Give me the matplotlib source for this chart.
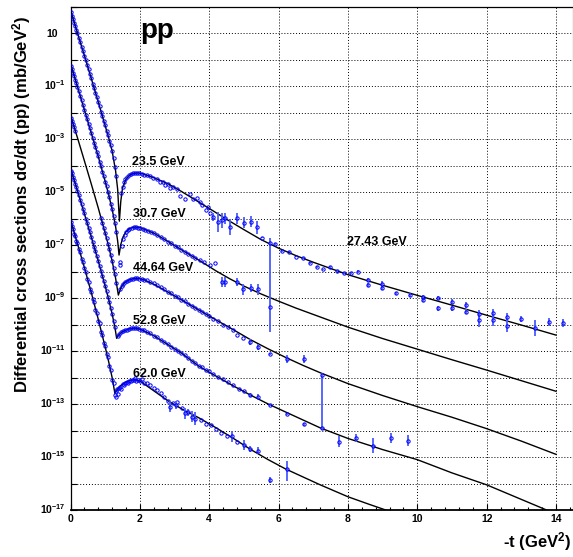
import numpy as np
import matplotlib
matplotlib.use("Agg")
import matplotlib.pyplot as plt

plt.rcParams['font.family'] = ['Liberation Sans', 'DejaVu Sans']
plt.rcParams['mathtext.fontset'] = 'custom'
plt.rcParams['mathtext.rm'] = 'Liberation Sans'
plt.rcParams['mathtext.bf'] = 'Liberation Sans:bold'
plt.rcParams['mathtext.it'] = 'Liberation Sans:italic'

# ---- data (values stored as log10 of dsigma/dt, mb/GeV^2) ----
# forward-cone t values used by the data sets
t_fwd = [0.02, 0.05, 0.08, 0.11, 0.14, 0.17, 0.20, 0.24, 0.28, 0.32, 0.36, 0.40,
         0.44, 0.48, 0.52, 0.56, 0.60, 0.64, 0.68, 0.72, 0.76, 0.80, 0.84, 0.88,
         0.92, 0.96, 1.00, 1.04, 1.08, 1.12, 1.16, 1.20, 1.24, 1.28, 1.32]

# 23.5 GeV
t_235 = t_fwd + [1.46, 1.50, 1.54, 1.58, 1.63, 1.68, 1.74, 1.80, 1.86, 1.92, 1.98,
                 2.05, 2.12, 2.20, 2.30, 2.39, 2.48, 2.58, 2.66, 2.72, 2.80, 2.87,
                 2.95, 3.06, 3.16, 3.30, 3.45, 3.54, 3.64, 3.73, 3.78, 3.91, 3.96, 4.02]
lg_235 = [1.79, 1.64, 1.53, 1.38, 1.27, 1.12, 1.01, 0.82, 0.67, 0.48, 0.33, 0.14,
          -0.01, -0.21, -0.36, -0.56, -0.71, -0.91, -1.06, -1.26, -1.41, -1.61, -1.77,
          -1.97, -2.13, -2.33, -2.49, -2.69, -2.85, -3.06, -3.24, -3.46, -3.73, -4.07,
          -4.40,
          -5.05, -4.80, -4.63, -4.52, -4.43, -4.37, -4.33, -4.30, -4.28, -4.27, -4.29,
          -4.31, -4.34, -4.36, -4.41, -4.48, -4.52, -4.61, -4.64, -4.74, -4.70, -4.86,
          -4.80, -4.90, -5.15, -5.28, -5.08, -5.28, -5.22, -5.37, -5.49, -5.68, -5.55, -5.80]
te_235 = [4.12, 4.26, 4.36, 4.46, 4.60, 4.79, 5.00, 5.20, 5.39]
lge_235 = [-5.93, -6.12, -6.06, -5.99, -6.33, -5.99, -6.16, -6.12, -6.33]
err_235 = [0.15, 0.38, 0.28, 0.20, 0.30, 0.20, 0.20, 0.20, 0.25]

# 27.43 GeV (large |t|)
t_2743 = [5.51, 5.75, 5.90, 6.09, 6.31, 6.50, 6.70, 6.91, 7.10, 7.29, 7.48, 7.69,
          7.90, 8.09, 8.28, 8.59, 8.59, 8.99, 8.99, 9.39, 9.79, 10.17, 10.17, 10.59,
          10.59, 10.99, 10.99, 11.40, 11.40, 11.79, 11.79, 12.19, 12.19, 12.60, 12.60,
          13.00, 13.39, 13.79, 14.19]
lg_2743 = [-6.72, -6.94, -6.96, -7.22, -7.25, -7.44, -7.50, -7.67, -7.82, -7.92, -7.84,
           -7.98, -8.07, -8.05, -8.01, -8.32, -8.50, -8.47, -8.61, -8.82, -8.89, -8.95,
           -9.08, -9.01, -9.39, -9.14, -9.39, -9.26, -9.52, -9.60, -9.83, -9.55, -9.83,
           -9.73, -10.05, -9.79, -10.14, -9.89, -9.95]
err_2743 = [0.03, 0.03, 0.03, 0.03, 0.03, 0.03, 0.03, 0.03, 0.03, 0.03, 0.03, 0.04,
            0.04, 0.05, 0.05, 0.08, 0.08, 0.10, 0.10, 0.05, 0.06, 0.08, 0.08, 0.08,
            0.10, 0.10, 0.10, 0.12, 0.10, 0.15, 0.25, 0.15, 0.22, 0.15, 0.25, 0.12,
            0.30, 0.15, 0.15]

# 30.7 GeV
t_307 = t_fwd + [1.43, 1.43, 1.48, 1.52, 1.56, 1.60, 1.65, 1.70, 1.76, 1.82, 1.88,
                 1.94, 2.00, 2.08, 2.16, 2.24, 2.32, 2.40, 2.50, 2.60, 2.70, 2.80,
                 2.90, 3.00, 3.10, 3.20, 3.30, 3.40, 3.50, 3.60, 3.73, 3.85, 4.02, 4.17]
lg_307 = [-0.25, -0.36, -0.51, -0.62, -0.77, -0.88, -1.03, -1.19, -1.38, -1.54, -1.73,
          -1.89, -2.09, -2.24, -2.44, -2.59, -2.79, -2.95, -3.14, -3.30, -3.49, -3.65,
          -3.86, -4.03, -4.23, -4.40, -4.61, -4.79, -5.01, -5.20, -5.44, -5.64, -5.92,
          -6.16, -6.50,
          -7.66, -7.74, -7.02, -6.78, -6.62, -6.52, -6.44, -6.39, -6.35, -6.33, -6.31,
          -6.34, -6.35, -6.40, -6.42, -6.48, -6.50, -6.56, -6.61, -6.71, -6.77, -6.87,
          -6.93, -7.03, -7.09, -7.19, -7.25, -7.35, -7.40, -7.50, -7.58, -7.66, -7.75, -7.69]
te_307 = [4.36, 4.46, 4.79, 4.98, 5.20, 5.40, 5.75]
lge_307 = [-8.38, -8.38, -8.38, -8.67, -8.64, -8.67, -9.33]
elo_307 = [0.19, 0.19, 0.15, 0.20, 0.15, 0.20, 0.95]
ehi_307 = [0.19, 0.19, 0.15, 0.20, 0.15, 0.20, 2.59]

# 44.64 GeV (no data in the middle of the forward cone)
t_4464 = [0.02, 0.05, 0.08, 0.11, 0.14,
          0.88, 0.92, 0.96, 1.00, 1.04, 1.08, 1.12, 1.16, 1.20, 1.24, 1.28, 1.32,
          1.44, 1.48, 1.52, 1.57, 1.62, 1.68, 1.74, 1.80, 1.86, 1.92, 1.98,
          2.05, 2.12, 2.20, 2.30, 2.40, 2.50, 2.60, 2.70, 2.80, 2.90, 3.00,
          3.10, 3.20, 3.30, 3.40, 3.50, 3.60, 3.70, 3.80, 3.90, 4.00, 4.12,
          4.26, 4.40, 4.55, 4.70, 4.79, 4.98]
lg_4464 = [-2.19, -2.31, -2.45, -2.56, -2.70,
           -5.97, -6.18, -6.35, -6.56, -6.74, -6.96, -7.15, -7.39, -7.59, -7.87,
           -8.11, -8.42,
           -8.66, -8.55, -8.47, -8.41, -8.37, -8.32, -8.29, -8.27, -8.26, -8.25, -8.27,
           -8.28, -8.31, -8.33, -8.38, -8.44, -8.51, -8.58, -8.66, -8.76, -8.82, -8.91,
           -8.97, -9.07, -9.13, -9.24, -9.30, -9.38, -9.46, -9.52, -9.61, -9.68, -9.78,
           -9.85, -10.00, -10.08, -10.22, -10.40, -10.52]
te_4464 = [5.18, 5.42, 5.75, 6.25, 6.74, 7.24]
lge_4464 = [-10.65, -10.84, -11.11, -11.31, -11.30, -11.91]
elo_4464 = [0.12, 0.12, 0.05, 0.15, 0.15, 2.05]
ehi_4464 = [0.12, 0.12, 0.05, 0.15, 0.15, 0.08]

# 52.8 GeV
t_528 = t_fwd[:34] + [1.36, 1.40, 1.45, 1.50, 1.56, 1.62, 1.68, 1.74, 1.80, 1.86, 1.92,
                      1.98, 2.05, 2.12, 2.20, 2.30, 2.40, 2.50, 2.60, 2.70, 2.80, 2.90,
                      3.00, 3.10, 3.20, 3.30, 3.40, 3.50, 3.60, 3.70, 3.80, 3.90, 4.00,
                      4.12, 4.26, 4.40, 4.55, 4.70, 4.85, 5.00]
lg_528 = [-4.20, -4.30, -4.45, -4.56, -4.70, -4.81, -4.96, -5.11, -5.31, -5.46, -5.66,
          -5.81, -6.01, -6.16, -6.36, -6.51, -6.71, -6.87, -7.07, -7.23, -7.43, -7.59,
          -7.80, -7.97, -8.18, -8.35, -8.56, -8.74, -8.96, -9.15, -9.39, -9.59, -9.86,
          -10.09,
          -10.42, -10.36, -10.30, -10.26, -10.22, -10.19, -10.16, -10.15, -10.13, -10.14,
          -10.13, -10.16, -10.19, -10.21, -10.28, -10.33, -10.42, -10.48, -10.57, -10.65,
          -10.74, -10.84, -10.91, -10.99, -11.09, -11.16, -11.26, -11.36, -11.46, -11.56,
          -11.62, -11.71, -11.75, -11.86, -11.97, -12.05, -12.16, -12.30, -12.42, -12.50]
te_528 = [5.18, 5.42, 5.75, 6.25, 6.74, 7.24, 7.74, 8.23, 8.73, 9.24, 9.74]
lge_528 = [-12.66, -12.72, -13.04, -13.38, -13.77, -13.92, -14.42, -14.29, -14.58,
           -14.29, -14.38]
err_528 = [0.08, 0.10, 0.05, 0.05, 0.05, 0.05, 0.20, 0.15, 0.28, 0.18, 0.20]

# 62.0 GeV
t_620 = t_fwd[:34] + [1.30, 1.32, 1.34, 1.37, 1.40, 1.43, 1.46, 1.50, 1.54, 1.58, 1.62,
                      1.66, 1.70, 1.74, 1.78, 1.82, 1.86, 1.90, 1.95, 2.00, 2.06, 2.12,
                      2.20, 2.30, 2.40, 2.50, 2.60, 2.70, 2.80, 2.95, 3.06, 3.21, 3.75,
                      3.90, 4.05, 4.20, 4.35, 4.50, 4.80]
lg_620 = [-6.14, -6.30, -6.38, -6.58, -6.66, -6.85, -6.92, -7.16, -7.28, -7.52, -7.64,
          -7.88, -8.01, -8.27, -8.38, -8.66, -8.76, -9.05, -9.16, -9.45, -9.55, -9.86,
          -9.96, -10.28, -10.38, -10.70, -10.80, -11.13, -11.24, -11.58, -11.70, -12.08,
          -12.22, -12.66,
          -12.50, -12.72, -12.45, -12.62, -12.40, -12.35, -12.42, -12.25, -12.30, -12.20,
          -12.18, -12.22, -12.12, -12.15, -12.10, -12.08, -12.00, -12.12, -12.10, -12.15,
          -12.05, -12.20, -12.22, -12.30, -12.40, -12.48, -12.58, -12.75, -12.88, -12.95,
          -12.91, -13.16, -13.60, -13.75, -13.80, -13.95, -14.10, -14.20, -14.42]
te_620 = [2.87, 3.05, 3.30, 3.40, 3.49, 3.60, 4.65, 5.00, 5.18, 5.42, 5.75, 6.25]
lge_620 = [-13.10, -13.05, -13.35, -13.32, -13.48, -13.55, -14.22, -14.55, -14.71,
           -14.76, -15.87, -15.46]
elo_620 = [0.20, 0.15, 0.20, 0.15, 0.20, 0.25, 0.20, 0.20, 0.12, 0.12, 0.10, 0.45]
ehi_620 = [0.20, 0.15, 0.20, 0.15, 0.20, 0.25, 0.20, 0.20, 0.12, 0.12, 0.10, 0.30]

# model curves
ct_235 = [0, 0.2, 0.4, 0.6, 0.8, 1.0, 1.1, 1.2, 1.3, 1.36, 1.41, 1.45, 1.5, 1.6, 1.7,
          1.8, 1.95, 2.1, 2.4, 2.8, 3.2, 3.6, 4.0, 4.5, 5.0, 5.5, 6.0, 6.5, 7.0, 8.0,
          9.0, 10.0, 11.0, 12.0, 13.0, 14.0]
clg_235 = [1.87, 1.0, 0.15, -0.72, -1.6, -2.5, -2.95, -3.45, -4.2, -4.9, -6.1, -5.35,
           -4.85, -4.52, -4.37, -4.3, -4.28, -4.32, -4.46, -4.68, -4.98, -5.3, -5.62,
           -6.03, -6.42, -6.8, -7.12, -7.4, -7.65, -8.12, -8.52, -8.9, -9.27, -9.65,
           -10.02, -10.4]
ct_307 = [0, 0.2, 0.4, 0.6, 0.8, 1.0, 1.1, 1.2, 1.3, 1.36, 1.40, 1.45, 1.52, 1.6, 1.7,
          1.86, 2.0, 2.4, 2.8, 3.2, 3.7, 4.2, 4.6, 5.0, 5.5, 6.0, 6.5, 7.0, 8.0, 9.0,
          10.0, 11.0, 12.0, 13.0, 14.0]
clg_307 = [-0.15, -1.02, -1.9, -2.78, -3.66, -4.6, -5.1, -5.65, -6.3, -6.85, -7.38,
           -6.98, -6.68, -6.5, -6.38, -6.32, -6.34, -6.55, -6.86, -7.18, -7.57, -7.98,
           -8.28, -8.55, -8.85, -9.12, -9.38, -9.62, -10.1, -10.53, -10.93, -11.33,
           -11.72, -12.12, -12.52]
ct_4464 = [0, 0.2, 0.4, 0.6, 0.8, 1.0, 1.1, 1.2, 1.3, 1.38, 1.45, 1.55, 1.7, 1.85, 1.96,
           2.1, 2.4, 2.8, 3.2, 3.7, 4.2, 4.7, 5.2, 5.7, 6.2, 6.7, 7.2, 8.0, 9.0, 10.0,
           11.0, 12.0, 13.0, 14.0]
clg_4464 = [-2.1, -2.95, -3.82, -4.7, -5.6, -6.55, -7.05, -7.6, -8.25, -8.89, -8.62,
            -8.43, -8.31, -8.26, -8.26, -8.3, -8.48, -8.77, -9.07, -9.45, -9.83, -10.2,
            -10.58, -10.92, -11.24, -11.54, -11.82, -12.23, -12.68, -13.1, -13.5,
            -13.93, -14.4, -14.9]
ct_528 = [0, 0.2, 0.4, 0.6, 0.8, 1.0, 1.1, 1.2, 1.28, 1.33, 1.4, 1.5, 1.65, 1.8, 1.91,
          2.05, 2.4, 2.8, 3.2, 3.7, 4.2, 4.7, 5.2, 5.7, 6.2, 6.7, 7.2, 8.0, 9.0, 10.0,
          11.0, 12.0, 13.0, 14.0]
clg_528 = [-4.1, -4.95, -5.82, -6.7, -7.6, -8.55, -9.05, -9.6, -10.1, -10.52, -10.38,
           -10.27, -10.18, -10.14, -10.14, -10.2, -10.42, -10.75, -11.08, -11.57,
           -11.95, -12.32, -12.67, -13.0, -13.3, -13.6, -13.9, -14.3, -14.72, -15.1,
           -15.6, -16.05, -16.6, -17.15]
ct_620 = [0, 0.2, 0.4, 0.6, 0.8, 1.0, 1.1, 1.2, 1.28, 1.35, 1.45, 1.6, 1.75, 1.87, 2.0,
          2.4, 2.8, 3.2, 3.7, 4.2, 4.7, 5.2, 5.7, 6.2, 6.7, 7.2, 8.0, 8.6, 9.2]
clg_620 = [-6.05, -6.95, -7.85, -8.8, -9.8, -10.85, -11.4, -12.0, -12.6, -12.45, -12.3,
           -12.17, -12.1, -12.09, -12.13, -12.5, -12.87, -13.18, -13.52, -13.9, -14.3,
           -14.72, -15.1, -15.45, -15.75, -16.05, -16.5, -16.78, -17.05]

energy_labels = ["23.5 GeV", "30.7 GeV", "44.64 GeV", "52.8 GeV", "62.0 GeV", "27.43 GeV"]
label_t = [1.78, 1.81, 1.81, 1.81, 1.81, 7.96]
label_lg = [-3.98, -5.93, -7.97, -9.98, -11.97, -7.0]

BLUE = '#0000ff'
BAR = '#4a5cff'


def draw_points(ax, t, lg):
    y = 10.0 ** np.asarray(lg)
    ax.plot(t, y, 'o', ms=2.4, mfc='none', mec=BLUE, mew=0.7, zorder=3)


def draw_errors(ax, t, lg, lo, hi):
    lg = np.asarray(lg)
    y = 10.0 ** lg
    yerr = [y - 10.0 ** (lg - np.asarray(lo)), 10.0 ** (lg + np.asarray(hi)) - y]
    ax.errorbar(t, y, yerr=yerr, fmt='o', ms=2.4, mfc='none', mec=BLUE, mew=0.7,
                ecolor=BAR, elinewidth=1.3, capsize=0, zorder=3)


fig = plt.figure(figsize=(5.73, 5.57), dpi=100)
ax = fig.add_axes([70.5 / 573, 47 / 557, 502.5 / 573, 503.5 / 557])
ax.set_yscale('log')
ax.set_xlim(0, 14.49)
ax.set_ylim(1e-17, 1e2)

# model curves
for ct, clg in [(ct_235, clg_235), (ct_307, clg_307), (ct_4464, clg_4464),
                (ct_528, clg_528), (ct_620, clg_620)]:
    ax.plot(ct, 10.0 ** np.asarray(clg), color='black', lw=1.0, zorder=2)

# data
draw_points(ax, t_235, lg_235)
draw_errors(ax, te_235, lge_235, err_235, err_235)
draw_errors(ax, t_2743, lg_2743, err_2743, err_2743)
draw_points(ax, t_307, lg_307)
draw_errors(ax, te_307, lge_307, elo_307, ehi_307)
draw_points(ax, t_4464, lg_4464)
draw_errors(ax, te_4464, lge_4464, elo_4464, ehi_4464)
draw_points(ax, t_528, lg_528)
draw_errors(ax, te_528, lge_528, err_528, err_528)
draw_points(ax, t_620, lg_620)
draw_errors(ax, te_620, lge_620, elo_620, ehi_620)

for txt, lt, ll in zip(energy_labels, label_t, label_lg):
    ax.text(lt, 10.0 ** ll, txt, fontsize=9, fontweight='bold', va='baseline', ha='left')

ax.text(2.0, 10.0 ** 0.81, "pp", fontsize=20, fontweight='bold', va='baseline')

# axes styling (ROOT-like)
ax.set_yticks(10.0 ** np.arange(-17, 3))
ax.set_yticklabels([])
ax.yaxis.set_minor_locator(matplotlib.ticker.NullLocator())
ax.set_xticks(np.arange(0, 15, 2))
ax.set_xticklabels([str(v) for v in range(0, 15, 2)], fontsize=7.5, fontweight='bold')
ax.xaxis.set_minor_locator(matplotlib.ticker.MultipleLocator(0.4))
ax.tick_params(axis='both', which='major', direction='in', length=4, width=0.8, pad=3)
ax.tick_params(axis='x', which='minor', direction='in', length=2.5, width=0.8)
ax.grid(True, which='major', color='black', ls=(0, (1, 2)), lw=0.7)
ax.spines['bottom'].set_linewidth(1.3)
ax.spines['left'].set_linewidth(0.9)
ax.spines['top'].set_linewidth(0.9)

ytr = ax.get_yaxis_transform()
for e in range(1, -18, -2):
    if e == 1:
        ax.text(-0.025, 10.0 ** (e - 0.15), "10", transform=ytr, ha='right',
                va='baseline', fontsize=7.5, fontweight='bold', clip_on=False)
    else:
        ax.text(-0.009, 10.0 ** (e - 0.15), r"$\mathbf{10^{%d}}$" % e, transform=ytr,
                ha='right', va='baseline', fontsize=7.5, clip_on=False)

fig.text(571 / 573, 1 - 547 / 557, r"-t (GeV$^{\mathbf{2}}$)", ha='right', va='baseline',
         fontsize=12, fontweight='bold')
fig.text(22 / 573, 1 - 16 / 557,
         "Differential cross sections d\u03c3/dt (pp) (mb/GeV$^{\\mathbf{2}}$)",
         rotation=90, ha='center', va='top', fontsize=12, fontweight='bold')

fig.savefig("out.png", dpi=100)
